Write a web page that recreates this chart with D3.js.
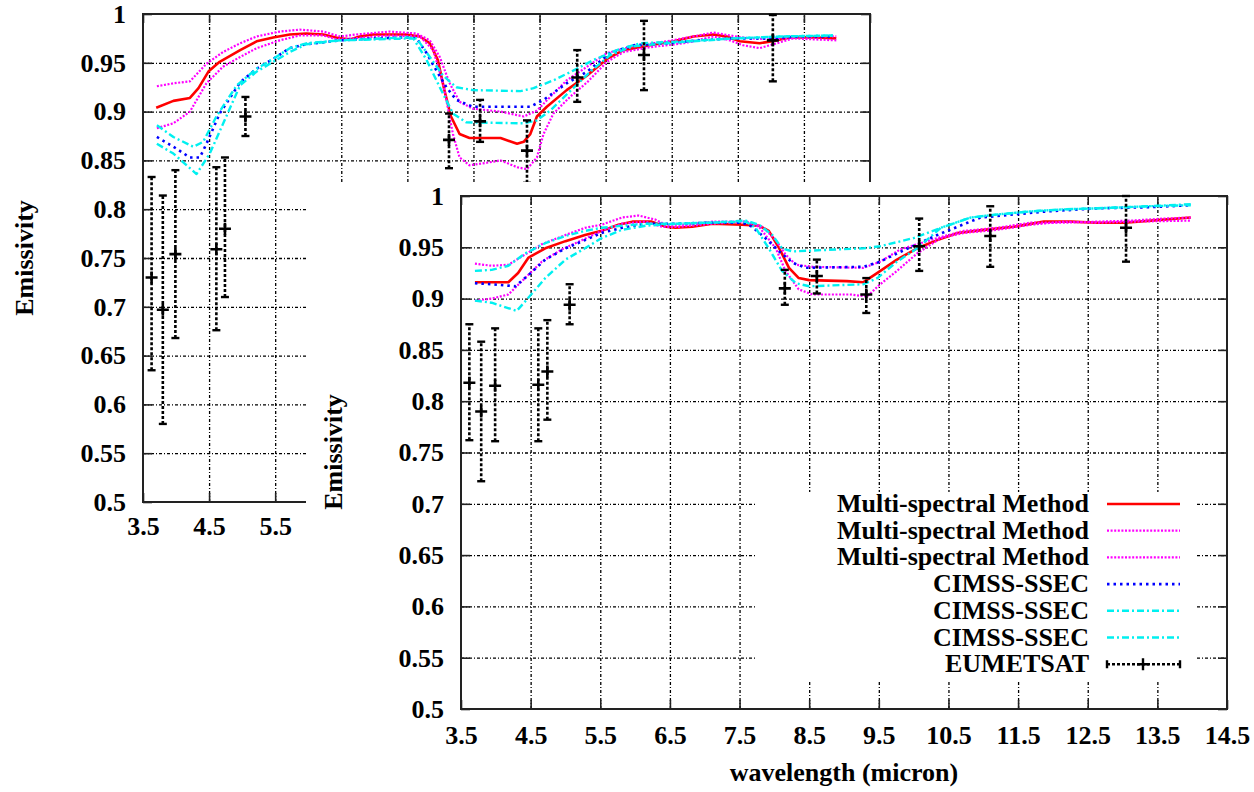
<!DOCTYPE html>
<html>
<head>
<meta charset="utf-8">
<script src="https://cdn.jsdelivr.net/npm/d3@7"></script>
<style>
  body { margin: 0; background: #fff; }
  svg text { font-family: "Liberation Serif", "Times New Roman", serif; font-weight: bold; fill: #000; }
</style>
</head>
<body>
<div id="vis"></div>
<script>
// tick values (same for both panels)
const xTicks = [3.5, 4.5, 5.5, 6.5, 7.5, 8.5, 9.5, 10.5, 11.5, 12.5, 13.5, 14.5]
const yTicks = [0.5, 0.55, 0.6, 0.65, 0.7, 0.75, 0.8, 0.85, 0.9, 0.95, 1]

const legendLabels = ['Multi-spectral Method', 'Multi-spectral Method', 'Multi-spectral Method',
                      'CIMSS-SSEC', 'CIMSS-SSEC', 'CIMSS-SSEC', 'EUMETSAT']

// ---- back panel (top-left) : [wavelength, emissivity]
const backMultiRed = [[3.70,0.904],[3.96,0.911],[4.21,0.914],[4.34,0.924],[4.49,0.941],[4.66,0.951],[4.97,0.963],[5.22,0.972],[5.47,0.976],[5.72,0.979],[5.97,0.980],[6.23,0.979],[6.48,0.975],[6.63,0.974],[6.78,0.977],[6.98,0.979],[7.48,0.979],[7.69,0.977],[7.84,0.970],[7.96,0.953],[8.06,0.922],[8.16,0.895],[8.29,0.877],[8.44,0.873],[8.91,0.873],[9.16,0.867],[9.26,0.869],[9.36,0.877],[9.46,0.895],[9.61,0.905],[9.91,0.922],[10.22,0.937],[10.52,0.954],[10.77,0.963],[11.17,0.968],[11.53,0.972],[11.83,0.977],[12.13,0.979],[12.33,0.977],[12.53,0.972],[12.83,0.970],[13.09,0.973],[13.29,0.976],[13.69,0.976],[13.99,0.975]]
const backMultiUp = [[3.71,0.926],[3.96,0.929],[4.21,0.931],[4.46,0.949],[4.71,0.961],[4.97,0.970],[5.22,0.977],[5.57,0.982],[5.87,0.984],[6.23,0.982],[6.48,0.977],[6.73,0.979],[7.23,0.982],[7.64,0.980],[7.84,0.973],[7.99,0.956],[8.14,0.929],[8.29,0.910],[8.49,0.903],[8.91,0.900],[9.26,0.895],[9.46,0.901],[9.66,0.915],[9.91,0.932],[10.22,0.946],[10.52,0.960],[10.92,0.967],[11.42,0.972],[11.83,0.977],[12.13,0.981],[12.38,0.978],[12.68,0.975],[13.09,0.974],[13.44,0.977],[13.99,0.977]]
const backMultiLow = [[3.71,0.883],[3.96,0.888],[4.21,0.900],[4.46,0.929],[4.71,0.946],[4.97,0.956],[5.22,0.965],[5.57,0.973],[5.87,0.978],[6.23,0.978],[6.43,0.974],[6.68,0.975],[7.23,0.978],[7.69,0.977],[7.89,0.963],[8.04,0.929],[8.19,0.877],[8.29,0.853],[8.44,0.845],[8.74,0.848],[8.91,0.850],[9.16,0.843],[9.31,0.841],[9.46,0.853],[9.56,0.877],[9.71,0.898],[9.96,0.915],[10.22,0.930],[10.52,0.951],[10.77,0.961],[11.17,0.966],[11.68,0.970],[12.13,0.977],[12.38,0.973],[12.58,0.968],[12.83,0.965],[13.09,0.970],[13.34,0.975],[13.99,0.973]]
const backCimssBlue = [[3.71,0.874],[3.96,0.864],[4.21,0.853],[4.36,0.853],[4.46,0.867],[4.66,0.898],[4.97,0.930],[5.22,0.944],[5.47,0.954],[5.72,0.965],[5.97,0.969],[6.48,0.973],[6.98,0.975],[7.48,0.976],[7.64,0.975],[7.79,0.960],[7.94,0.942],[8.09,0.925],[8.24,0.912],[8.49,0.905],[9.36,0.905],[9.56,0.912],[9.91,0.929],[10.22,0.941],[10.57,0.960],[10.92,0.968],[11.42,0.970],[11.92,0.973],[12.42,0.975],[12.93,0.975],[13.44,0.977],[13.94,0.977]]
const backCimssUp = [[3.71,0.886],[3.96,0.874],[4.26,0.864],[4.41,0.869],[4.61,0.895],[4.92,0.927],[5.22,0.944],[5.47,0.954],[5.72,0.965],[5.97,0.970],[6.48,0.973],[7.48,0.976],[7.64,0.975],[7.84,0.956],[8.04,0.937],[8.24,0.925],[8.49,0.922],[9.21,0.921],[9.41,0.924],[9.71,0.932],[10.01,0.942],[10.32,0.953],[10.67,0.963],[11.02,0.970],[11.68,0.972],[12.43,0.975],[13.19,0.977],[13.94,0.978]]
const backCimssLow = [[3.71,0.867],[3.96,0.857],[4.31,0.836],[4.51,0.857],[4.76,0.895],[4.97,0.927],[5.22,0.941],[5.47,0.951],[5.72,0.961],[5.97,0.969],[6.48,0.973],[7.59,0.975],[7.79,0.953],[7.99,0.925],[8.19,0.898],[8.39,0.889],[9.26,0.888],[9.46,0.891],[9.66,0.901],[10.01,0.924],[10.27,0.941],[10.57,0.958],[10.92,0.967],[11.42,0.970],[12.43,0.975],[13.19,0.977],[13.94,0.978]]
// [wavelength, value, low, high]
const backEumetsat = [[3.63,0.730,0.635,0.833],[3.80,0.697,0.580,0.814],[3.99,0.754,0.668,0.840],[4.61,0.759,0.676,0.843],[4.74,0.780,0.710,0.853],[5.05,0.895,0.875,0.915],[8.13,0.871,0.842,0.898],[8.60,0.890,0.869,0.912],[9.31,0.860,0.827,0.891],[10.07,0.935,0.910,0.963],[11.08,0.958,0.922,0.993],[13.03,0.973,0.931,0.999]]

// ---- front panel (bottom-right)
const frontMultiRed = [[3.70,0.916],[4.18,0.916],[4.32,0.925],[4.47,0.940],[4.71,0.949],[5.00,0.956],[5.28,0.962],[5.52,0.966],[5.76,0.972],[5.96,0.975],[6.24,0.975],[6.44,0.970],[6.58,0.969],[6.82,0.970],[7.11,0.973],[7.54,0.972],[7.78,0.971],[7.92,0.966],[8.07,0.949],[8.21,0.930],[8.35,0.920],[8.50,0.918],[9.04,0.917],[9.28,0.916],[9.48,0.925],[9.76,0.938],[10.05,0.949],[10.34,0.957],[10.63,0.964],[11.01,0.967],[11.44,0.970],[11.87,0.975],[12.26,0.975],[12.64,0.974],[13.03,0.974],[13.41,0.976],[13.98,0.979]]
const frontMultiUp = [[3.70,0.934],[3.94,0.932],[4.18,0.933],[4.42,0.943],[4.66,0.953],[5.00,0.962],[5.28,0.969],[5.52,0.972],[5.81,0.979],[6.05,0.981],[6.29,0.977],[6.44,0.972],[6.72,0.972],[7.11,0.975],[7.59,0.975],[7.83,0.970],[8.02,0.957],[8.16,0.943],[8.31,0.933],[8.55,0.931],[9.28,0.930],[9.52,0.936],[9.81,0.948],[10.05,0.953],[10.34,0.959],[10.72,0.966],[11.20,0.969],[11.68,0.974],[12.16,0.974],[12.64,0.975],[13.12,0.976],[13.60,0.978],[13.98,0.979]]
const frontMultiLow = [[3.70,0.898],[3.94,0.900],[4.18,0.904],[4.42,0.920],[4.66,0.936],[4.95,0.948],[5.24,0.957],[5.52,0.966],[5.81,0.973],[6.15,0.975],[6.39,0.970],[6.63,0.970],[7.11,0.973],[7.59,0.975],[7.78,0.970],[8.02,0.949],[8.16,0.927],[8.35,0.909],[8.55,0.904],[9.09,0.904],[9.33,0.902],[9.52,0.914],[9.76,0.927],[10.05,0.944],[10.39,0.959],[10.72,0.964],[11.20,0.967],[11.68,0.972],[12.16,0.975],[12.64,0.974],[13.12,0.975],[13.98,0.976]]
const frontCimssBlue = [[3.70,0.915],[3.94,0.914],[4.28,0.912],[4.47,0.923],[4.71,0.938],[5.00,0.949],[5.28,0.957],[5.52,0.964],[5.81,0.969],[6.15,0.973],[6.58,0.973],[7.06,0.974],[7.54,0.974],[7.68,0.970],[7.87,0.959],[8.07,0.946],[8.26,0.935],[8.45,0.930],[9.28,0.931],[9.52,0.936],[9.76,0.944],[10.05,0.953],[10.34,0.962],[10.63,0.970],[10.96,0.979],[11.44,0.982],[11.92,0.985],[12.64,0.988],[13.36,0.989],[13.98,0.991]]
const frontCimssUp = [[3.70,0.927],[3.94,0.928],[4.18,0.932],[4.42,0.944],[4.71,0.954],[5.00,0.961],[5.28,0.966],[5.52,0.969],[5.81,0.971],[6.15,0.973],[6.58,0.973],[7.06,0.974],[7.59,0.976],[7.78,0.972],[7.97,0.962],[8.11,0.949],[8.26,0.946],[9.28,0.949],[9.52,0.951],[10.00,0.959],[10.39,0.969],[10.82,0.979],[11.20,0.982],[11.68,0.985],[12.16,0.987],[12.64,0.988],[13.36,0.990],[13.98,0.992]]
const frontCimssLow = [[3.70,0.898],[3.94,0.896],[4.30,0.888],[4.47,0.901],[4.71,0.920],[5.00,0.938],[5.28,0.949],[5.52,0.959],[5.81,0.967],[6.15,0.971],[6.58,0.973],[7.06,0.974],[7.59,0.975],[7.73,0.969],[7.92,0.949],[8.11,0.927],[8.31,0.915],[8.50,0.912],[9.28,0.914],[9.48,0.920],[9.76,0.936],[10.05,0.949],[10.39,0.969],[10.82,0.979],[11.20,0.982],[11.68,0.985],[12.16,0.987],[12.64,0.988],[13.36,0.990],[13.98,0.991]]
const frontEumetsat = [[3.62,0.818,0.762,0.875],[3.79,0.790,0.722,0.858],[3.99,0.815,0.761,0.871],[4.61,0.816,0.761,0.871],[4.74,0.829,0.782,0.879],[5.06,0.894,0.875,0.914],[8.15,0.910,0.894,0.928],[8.61,0.922,0.905,0.938],[9.32,0.904,0.886,0.920],[10.08,0.951,0.927,0.978],[11.10,0.961,0.931,0.990],[13.05,0.969,0.936,1.000]]

// line styles in legend order
const styles = [
  { color: '#ff0000', width: 2.6, dash: null },
  { color: '#ff00ff', width: 2.2, dash: '2,1.6' },
  { color: '#ff00ff', width: 2.2, dash: '2,1.6' },
  { color: '#0000ff', width: 2.6, dash: '2.5,4' },
  { color: '#00f0f0', width: 2.4, dash: '7,3,2,3' },
  { color: '#00f0f0', width: 2.4, dash: '7,3,2,3' }
]

// the front plot is pasted over the back one from this corner on
const cover = { x: 306, y: 182 }

const svg = d3.select('#vis').append('svg')
  .attr('width', 1254).attr('height', 792)

svg.append('rect').attr('width', 1254).attr('height', 792).attr('fill', '#fff')

function drawPanel(p) {
  const g = svg.append('g')
  const x = d3.scaleLinear().domain([3.5, 14.5]).range([p.left, p.right])
  const y = d3.scaleLinear().domain([0.5, 1]).range([p.bottom, p.top])
  const w = p.right - p.left, h = p.bottom - p.top

  // grid
  const gridStyle = sel => {
    sel.select('.domain').remove()
    sel.selectAll('line').attr('stroke', '#000').attr('stroke-width', 1.3).attr('stroke-dasharray', '3,2,1,2')
  }
  g.append('g').attr('transform', `translate(0,${p.bottom})`)
    .call(d3.axisBottom(x).tickValues(xTicks.slice(1, -1)).tickSize(-h).tickFormat(''))
    .call(gridStyle)
  g.append('g').attr('transform', `translate(${p.left},0)`)
    .call(d3.axisLeft(y).tickValues(yTicks.slice(1, -1)).tickSize(-w).tickFormat(''))
    .call(gridStyle)

  // key box hides the grid behind it
  if (p.legend) {
    g.append('rect').attr('x', p.legend.x0).attr('y', p.legend.y0)
      .attr('width', p.legend.x1 - p.legend.x0).attr('height', p.legend.y1 - p.legend.y0)
      .attr('fill', '#fff')
  }

  // axes with inward ticks (gnuplot style)
  const axStyle = sel => {
    sel.select('.domain').remove()
    sel.selectAll('line').attr('stroke', '#222').attr('stroke-width', 1.6)
    sel.selectAll('text').attr('font-size', 26).attr('fill', '#000')
      .style('font-family', '"Liberation Serif", serif').style('font-weight', 'bold')
  }
  // only label the x ticks that stay visible
  const xLabelled = xTicks.filter(v => x(v) < p.labelMaxX)
  g.append('g').attr('transform', `translate(${p.left},0)`)
    .call(d3.axisLeft(y).tickValues(yTicks).tickSize(-9).tickPadding(17).tickFormat(d => String(d)))
    .call(axStyle)
  g.append('g').attr('transform', `translate(${p.right},0)`)
    .call(d3.axisRight(y).tickValues(yTicks).tickSize(-9).tickFormat(''))
    .call(axStyle)
  g.append('g').attr('transform', `translate(0,${p.bottom})`)
    .call(d3.axisBottom(x).tickValues(xTicks).tickSize(-9).tickFormat(''))
    .call(axStyle)
  g.append('g').attr('transform', `translate(0,${p.bottom})`)
    .call(d3.axisBottom(x).tickValues(xLabelled).tickSize(0).tickPadding(p.xPad).tickFormat(d => String(d)))
    .call(axStyle)
  g.append('g').attr('transform', `translate(0,${p.top})`)
    .call(d3.axisTop(x).tickValues(xTicks).tickSize(-9).tickFormat(''))
    .call(axStyle)

  g.append('rect').attr('x', p.left).attr('y', p.top).attr('width', w).attr('height', h)
    .attr('fill', 'none').attr('stroke', '#222').attr('stroke-width', 2)

  // curves
  const line = d3.line().x(d => x(d[0])).y(d => y(d[1]))
  p.series.forEach((s, i) => {
    g.append('path').datum(s)
      .attr('d', line)
      .attr('fill', 'none')
      .attr('stroke', styles[i].color)
      .attr('stroke-width', styles[i].width)
      .attr('stroke-dasharray', styles[i].dash)
      .attr('stroke-linejoin', 'round')
  })

  // EUMETSAT error bars
  const eb = g.selectAll('.eb').data(p.eumetsat).join('g').attr('class', 'eb')
  eb.append('line')
    .attr('x1', d => x(d[0])).attr('x2', d => x(d[0]))
    .attr('y1', d => y(d[2])).attr('y2', d => y(d[3]))
    .attr('stroke', '#000').attr('stroke-width', 2.6).attr('stroke-dasharray', '3,2')
  ;[2, 3].forEach(k => {
    eb.append('line')
      .attr('x1', d => x(d[0]) - 4).attr('x2', d => x(d[0]) + 4)
      .attr('y1', d => y(d[k])).attr('y2', d => y(d[k]))
      .attr('stroke', '#000').attr('stroke-width', 2.4)
  })
  eb.append('path')
    .attr('d', d => `M${x(d[0]) - 6},${y(d[1])}h12M${x(d[0])},${y(d[1]) - 6}v12`)
    .attr('stroke', '#000').attr('stroke-width', 2.6)

  return { x, y }
}

// back panel
drawPanel({
  left: 143, right: 870, top: 14, bottom: 502, xPad: 15, labelMaxX: cover.x,
  series: [backMultiRed, backMultiUp, backMultiLow, backCimssBlue, backCimssUp, backCimssLow],
  eumetsat: backEumetsat
})
svg.append('text')
  .attr('transform', 'translate(33,258) rotate(-90)')
  .attr('text-anchor', 'middle').attr('font-size', 26)
  .text('Emissivity')

svg.append('rect').attr('x', cover.x).attr('y', cover.y)
  .attr('width', 1254 - cover.x).attr('height', 792 - cover.y)
  .attr('fill', '#fff')

const legendBox = { x0: 755, x1: 1195, y0: 492, y1: 681 }
drawPanel({
  left: 461, right: 1227, top: 196, bottom: 709, xPad: 17, labelMaxX: 1300,
  series: [frontMultiRed, frontMultiUp, frontMultiLow, frontCimssBlue, frontCimssUp, frontCimssLow],
  eumetsat: frontEumetsat,
  legend: legendBox
})
svg.append('text')
  .attr('transform', 'translate(342,452) rotate(-90)')
  .attr('text-anchor', 'middle').attr('font-size', 26)
  .text('Emissivity')
svg.append('text')
  .attr('x', 844).attr('y', 781)
  .attr('text-anchor', 'middle').attr('font-size', 26)
  .text('wavelength (micron)')

// legend
const rowY = i => 504 + i * 26.7
const lg = svg.append('g')
lg.selectAll('text').data(legendLabels).join('text')
  .attr('x', 1089).attr('y', (d, i) => rowY(i) + 8)
  .attr('text-anchor', 'end').attr('font-size', 26)
  .text(d => d)
styles.forEach((s, i) => {
  lg.append('line')
    .attr('x1', 1107).attr('x2', 1180).attr('y1', rowY(i)).attr('y2', rowY(i))
    .attr('stroke', s.color).attr('stroke-width', s.width).attr('stroke-dasharray', s.dash)
})
const ey = rowY(6)
lg.append('line').attr('x1', 1107).attr('x2', 1180).attr('y1', ey).attr('y2', ey)
  .attr('stroke', '#000').attr('stroke-width', 2.6).attr('stroke-dasharray', '3,2')
lg.append('path')
  .attr('d', `M1107,${ey - 4}v8M1180,${ey - 4}v8M1137,${ey}h12M1143,${ey - 6}v12`)
  .attr('stroke', '#000').attr('stroke-width', 2.4)
</script>
</body>
</html>
